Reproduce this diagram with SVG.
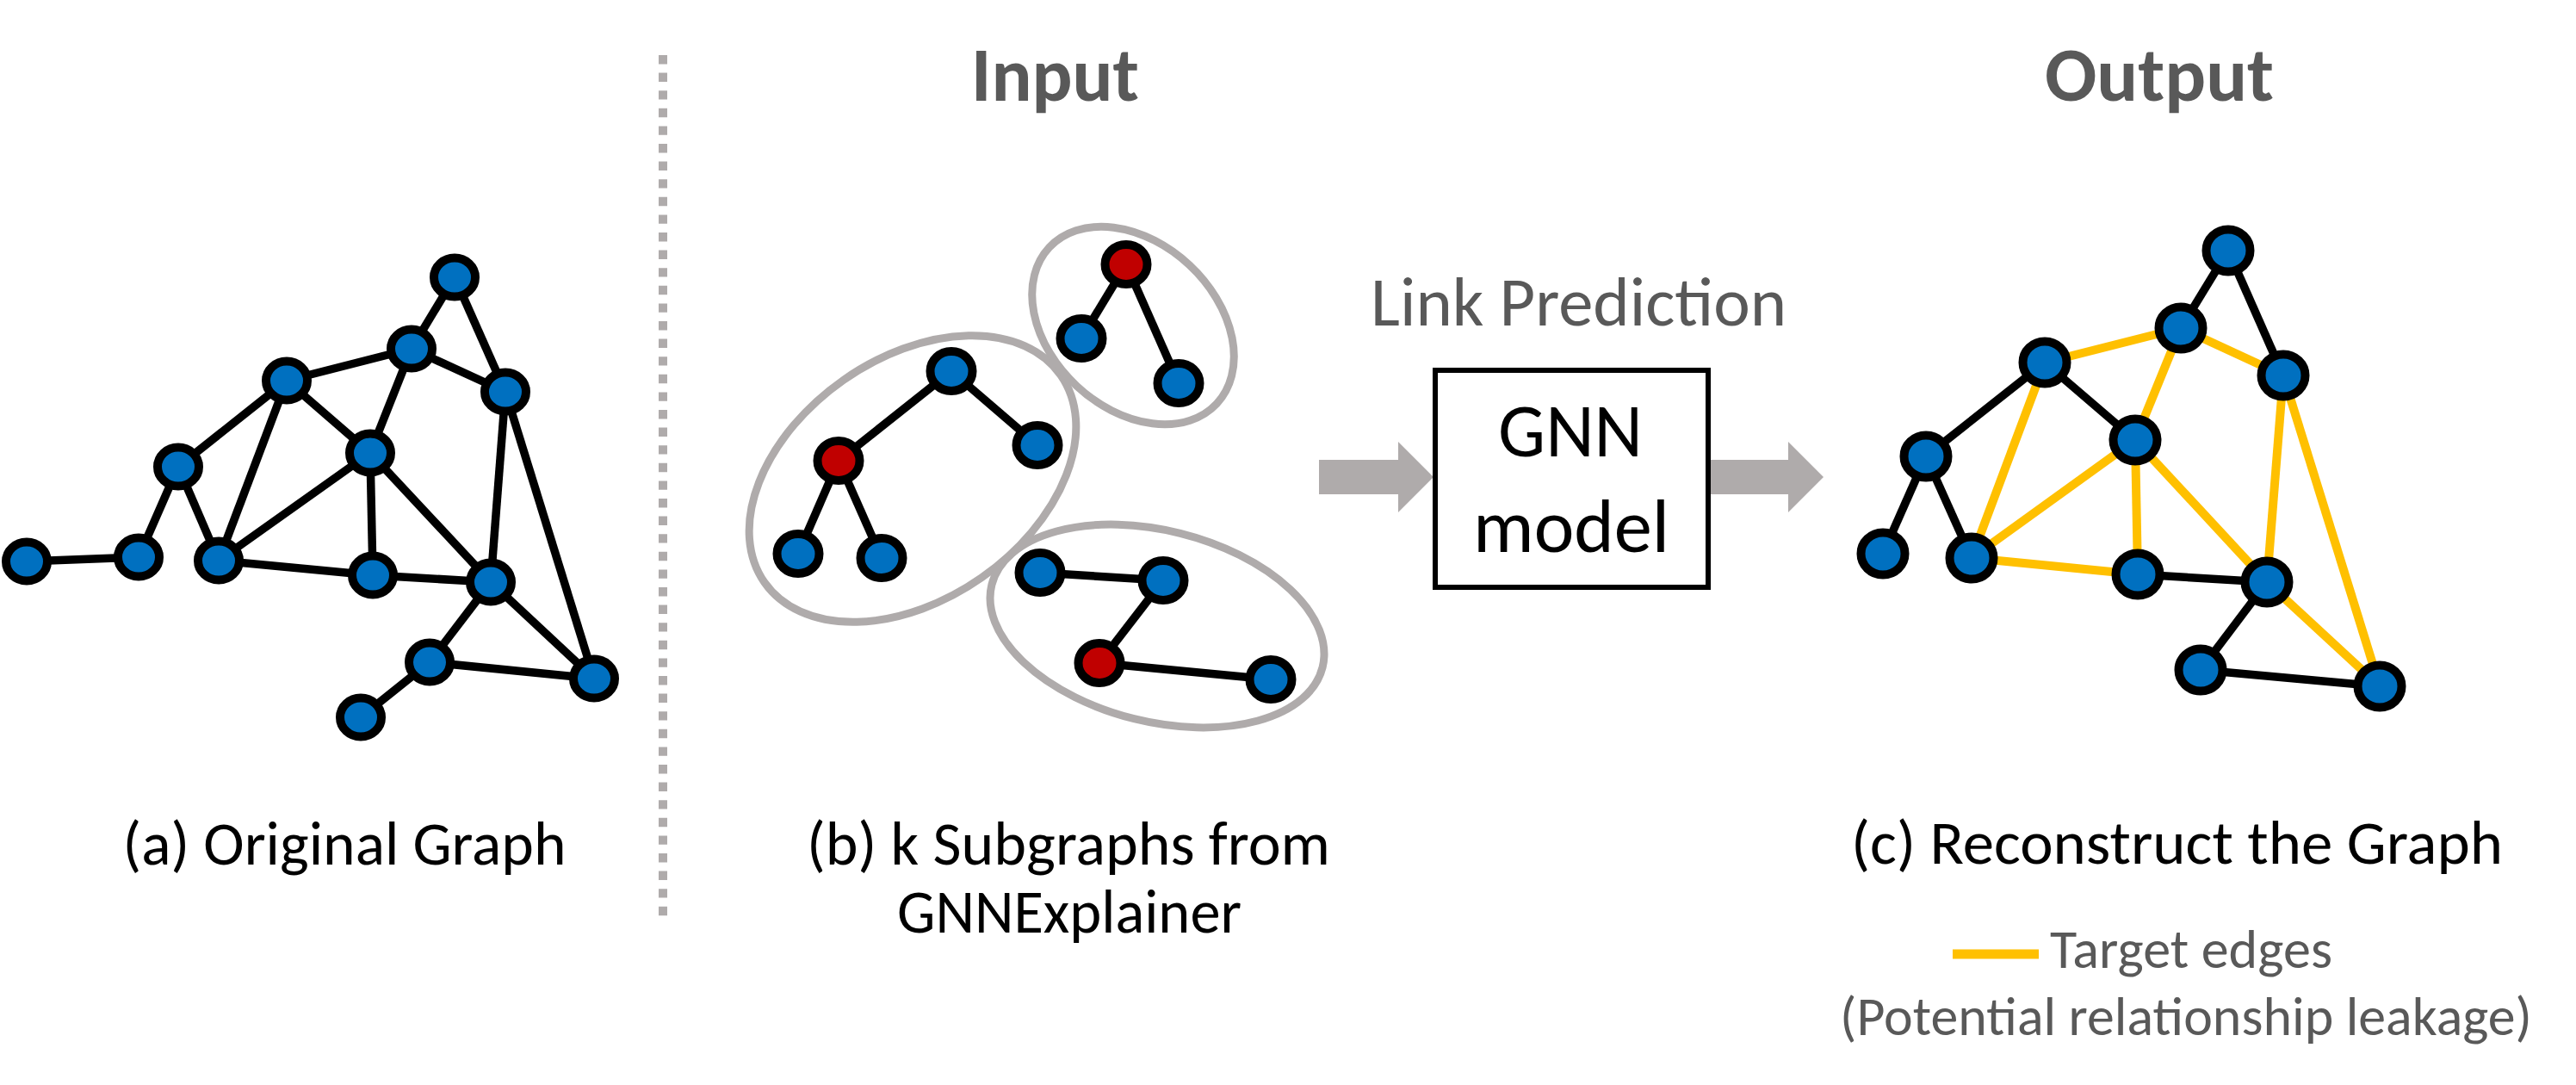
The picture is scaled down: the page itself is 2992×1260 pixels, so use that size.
<svg xmlns="http://www.w3.org/2000/svg" width="2992" height="1260" viewBox="0 0 2992 1260">
<style>
.t{font-family:Carlito,Calibri,Lato,"Open Sans",sans-serif;}
.gr{fill:#595959;}
.bk{fill:#000000;}
.hd{font-weight:bold;font-size:90px;}
.cap{font-size:72px;}
.leg{font-size:64px;}
.n{fill:#0070C0;stroke:#000;stroke-width:10;}
.r{fill:#C00000;stroke:#000;stroke-width:10;}
.e{stroke:#000;stroke-width:9.5;fill:none;}
.y{stroke:#FFC000;stroke-width:10;fill:none;}
.ring{fill:none;stroke:#AFABAB;stroke-width:9;}
.arr{fill:#AFABAB;}
</style>
<rect width="2992" height="1260" fill="#ffffff"/>

<!-- divider -->
<line x1="770" y1="64" x2="770" y2="1066" stroke="#AFABAB" stroke-width="10" stroke-dasharray="10.4 10.2"/>

<!-- titles -->
<text class="t gr hd" x="1225.5" y="117" text-anchor="middle" textLength="195" lengthAdjust="spacingAndGlyphs">Input</text>
<text class="t gr hd" x="2508" y="117" text-anchor="middle" textLength="266" lengthAdjust="spacingAndGlyphs">Output</text>

<!-- connectors -->
<g id="connectors">
  <g id="edges-a" class="e">
    <line x1="528" y1="322" x2="478" y2="405"/>
    <line x1="528" y1="322" x2="587" y2="455"/>
    <line x1="478" y1="405" x2="333" y2="442"/>
    <line x1="478" y1="405" x2="587" y2="455"/>
    <line x1="478" y1="405" x2="430" y2="526"/>
    <line x1="333" y1="442" x2="207" y2="542"/>
    <line x1="333" y1="442" x2="430" y2="526"/>
    <line x1="333" y1="442" x2="254" y2="651"/>
    <line x1="587" y1="455" x2="570" y2="676"/>
    <line x1="587" y1="455" x2="690" y2="788"/>
    <line x1="430" y1="526" x2="254" y2="651"/>
    <line x1="430" y1="526" x2="433" y2="668"/>
    <line x1="430" y1="526" x2="570" y2="676"/>
    <line x1="207" y1="542" x2="161" y2="647"/>
    <line x1="207" y1="542" x2="254" y2="651"/>
    <line x1="30" y1="652" x2="161" y2="647"/>
    <line x1="254" y1="651" x2="433" y2="668"/>
    <line x1="433" y1="668" x2="570" y2="676"/>
    <line x1="570" y1="676" x2="499" y2="769"/>
    <line x1="570" y1="676" x2="690" y2="788"/>
    <line x1="499" y1="769" x2="690" y2="788"/>
    <line x1="499" y1="769" x2="419" y2="833"/>
  </g>
  <g id="edges-b" class="e">
    <line x1="1105" y1="431" x2="974" y2="535"/>
    <line x1="1105" y1="431" x2="1205" y2="517"/>
    <line x1="974" y1="535" x2="927" y2="643"/>
    <line x1="974" y1="535" x2="1024" y2="648"/>
    <line x1="1308" y1="307" x2="1256" y2="393"/>
    <line x1="1308" y1="307" x2="1369" y2="445"/>
    <line x1="1208" y1="665" x2="1351" y2="674"/>
    <line x1="1351" y1="674" x2="1277" y2="770"/>
    <line x1="1277" y1="770" x2="1476" y2="789"/>
  </g>
  <g id="edges-c-target" class="y">
    <line x1="2375" y1="421" x2="2533" y2="381"/>
    <line x1="2533" y1="381" x2="2652" y2="436"/>
    <line x1="2533" y1="381" x2="2480" y2="511"/>
    <line x1="2375" y1="421" x2="2290" y2="648"/>
    <line x1="2290" y1="648" x2="2480" y2="511"/>
    <line x1="2290" y1="648" x2="2483" y2="667"/>
    <line x1="2480" y1="511" x2="2483" y2="667"/>
    <line x1="2480" y1="511" x2="2633" y2="676"/>
    <line x1="2652" y1="436" x2="2633" y2="676"/>
    <line x1="2652" y1="436" x2="2764" y2="797"/>
    <line x1="2633" y1="676" x2="2764" y2="797"/>
  </g>
  <g id="edges-c" class="e">
    <line x1="2588" y1="291" x2="2533" y2="381"/>
    <line x1="2588" y1="291" x2="2652" y2="436"/>
    <line x1="2375" y1="421" x2="2237" y2="530"/>
    <line x1="2375" y1="421" x2="2480" y2="511"/>
    <line x1="2237" y1="530" x2="2187" y2="643"/>
    <line x1="2237" y1="530" x2="2290" y2="648"/>
    <line x1="2483" y1="667" x2="2633" y2="676"/>
    <line x1="2633" y1="676" x2="2556" y2="778"/>
    <line x1="2556" y1="778" x2="2764" y2="797"/>
  </g>
  <polygon id="arrow-in" class="arr" points="1532,534 1624,534 1624,513 1665,554 1624,595 1624,574 1532,574"/>
  <polygon id="arrow-out" class="arr" points="1987,534 2077,534 2077,513 2118,554 2077,595 2077,574 1987,574"/>
</g>

<!-- graph a nodes -->
<g id="graph-a">
  <ellipse id="a1" class="n" cx="528" cy="322" rx="24" ry="22.5"/>
  <ellipse id="a2" class="n" cx="478" cy="405" rx="24" ry="22.5"/>
  <ellipse id="a3" class="n" cx="333" cy="442" rx="24" ry="22.5"/>
  <ellipse id="a4" class="n" cx="587" cy="455" rx="24" ry="22.5"/>
  <ellipse id="a5" class="n" cx="430" cy="526" rx="24" ry="22.5"/>
  <ellipse id="a6" class="n" cx="207" cy="542" rx="24" ry="22.5"/>
  <ellipse id="a7" class="n" cx="31" cy="652" rx="24" ry="22.5"/>
  <ellipse id="a8" class="n" cx="161" cy="647" rx="24" ry="22.5"/>
  <ellipse id="a9" class="n" cx="254" cy="651" rx="24" ry="22.5"/>
  <ellipse id="a10" class="n" cx="433" cy="668" rx="24" ry="22.5"/>
  <ellipse id="a11" class="n" cx="570" cy="676" rx="24" ry="22.5"/>
  <ellipse id="a12" class="n" cx="499" cy="769" rx="24" ry="22.5"/>
  <ellipse id="a13" class="n" cx="690" cy="788" rx="24" ry="22.5"/>
  <ellipse id="a14" class="n" cx="419" cy="833" rx="24" ry="22.5"/>
</g>
<text class="t bk cap" x="400" y="1004" text-anchor="middle" textLength="515" lengthAdjust="spacingAndGlyphs">(a) Original Graph</text>

<!-- graph b -->
<g id="subgraph-1">
  <ellipse class="ring" cx="1060" cy="556" rx="210" ry="140" transform="rotate(-35 1060 556)"/>
  <ellipse id="b-a" class="n" cx="1105" cy="431" rx="24.5" ry="23"/>
  <ellipse id="b-b" class="r" cx="974" cy="535" rx="24.5" ry="23"/>
  <ellipse id="b-c" class="n" cx="1205" cy="517" rx="24.5" ry="23"/>
  <ellipse id="b-d" class="n" cx="927" cy="643" rx="24.5" ry="23"/>
  <ellipse id="b-e" class="n" cx="1024" cy="648" rx="24.5" ry="23"/>
</g>
<g id="subgraph-2">
  <ellipse class="ring" cx="1316" cy="378" rx="133" ry="96" transform="rotate(43 1316 378)"/>
  <ellipse id="b-f" class="r" cx="1308" cy="307" rx="24.5" ry="23"/>
  <ellipse id="b-g" class="n" cx="1256" cy="393" rx="24.5" ry="23"/>
  <ellipse id="b-h" class="n" cx="1369" cy="445" rx="24.5" ry="23"/>
</g>
<g id="subgraph-3">
  <ellipse class="ring" cx="1344" cy="727" rx="198" ry="111" transform="rotate(14 1344 727)"/>
  <ellipse id="b-i" class="n" cx="1208" cy="665" rx="24.5" ry="23"/>
  <ellipse id="b-j" class="n" cx="1351" cy="674" rx="24.5" ry="23"/>
  <ellipse id="b-k" class="r" cx="1277" cy="770" rx="24.5" ry="23"/>
  <ellipse id="b-l" class="n" cx="1476" cy="789" rx="24.5" ry="23"/>
</g>
<text class="t bk cap" x="1241" y="1004" text-anchor="middle" textLength="608" lengthAdjust="spacingAndGlyphs">(b) k Subgraphs from</text>
<text class="t bk cap" x="1242" y="1083" text-anchor="middle" textLength="400" lengthAdjust="spacingAndGlyphs">GNNExplainer</text>

<!-- GNN model -->
<text class="t gr" x="1833.5" y="378" font-size="80" text-anchor="middle" textLength="483" lengthAdjust="spacingAndGlyphs">Link Prediction</text>
<g id="gnn-model">
  <rect x="1667" y="430" width="317" height="252" fill="#ffffff" stroke="#000" stroke-width="6"/>
  <text class="t bk" x="1824" y="530" font-size="88" text-anchor="middle" textLength="168" lengthAdjust="spacingAndGlyphs">GNN</text>
  <text class="t bk" x="1825" y="641" font-size="88" text-anchor="middle" textLength="228" lengthAdjust="spacingAndGlyphs">model</text>
</g>

<!-- graph c nodes -->
<g id="graph-c">
  <ellipse id="c1" class="n" cx="2588" cy="291" rx="25.5" ry="24.5"/>
  <ellipse id="c2" class="n" cx="2533" cy="381" rx="25.5" ry="24.5"/>
  <ellipse id="c3" class="n" cx="2375" cy="421" rx="25.5" ry="24.5"/>
  <ellipse id="c4" class="n" cx="2652" cy="436" rx="25.5" ry="24.5"/>
  <ellipse id="c5" class="n" cx="2480" cy="511" rx="25.5" ry="24.5"/>
  <ellipse id="c6" class="n" cx="2237" cy="530" rx="25.5" ry="24.5"/>
  <ellipse id="c7" class="n" cx="2187" cy="643" rx="25.5" ry="24.5"/>
  <ellipse id="c8" class="n" cx="2290" cy="648" rx="25.5" ry="24.5"/>
  <ellipse id="c9" class="n" cx="2483" cy="667" rx="25.5" ry="24.5"/>
  <ellipse id="c10" class="n" cx="2633" cy="676" rx="25.5" ry="24.5"/>
  <ellipse id="c11" class="n" cx="2556" cy="778" rx="25.5" ry="24.5"/>
  <ellipse id="c12" class="n" cx="2764" cy="797" rx="25.5" ry="24.5"/>
</g>
<text class="t bk cap" x="2528.5" y="1003" text-anchor="middle" textLength="757" lengthAdjust="spacingAndGlyphs">(c) Reconstruct the Graph</text>

<!-- legend -->
<g id="legend">
  <line x1="2268" y1="1108" x2="2368" y2="1108" stroke="#FFC000" stroke-width="11"/>
  <text class="t gr leg" x="2381" y="1124" textLength="328" lengthAdjust="spacingAndGlyphs">Target edges</text>
  <text class="t gr leg" x="2539" y="1202" text-anchor="middle" textLength="804" lengthAdjust="spacingAndGlyphs">(Potential relationship leakage)</text>
</g>
</svg>
